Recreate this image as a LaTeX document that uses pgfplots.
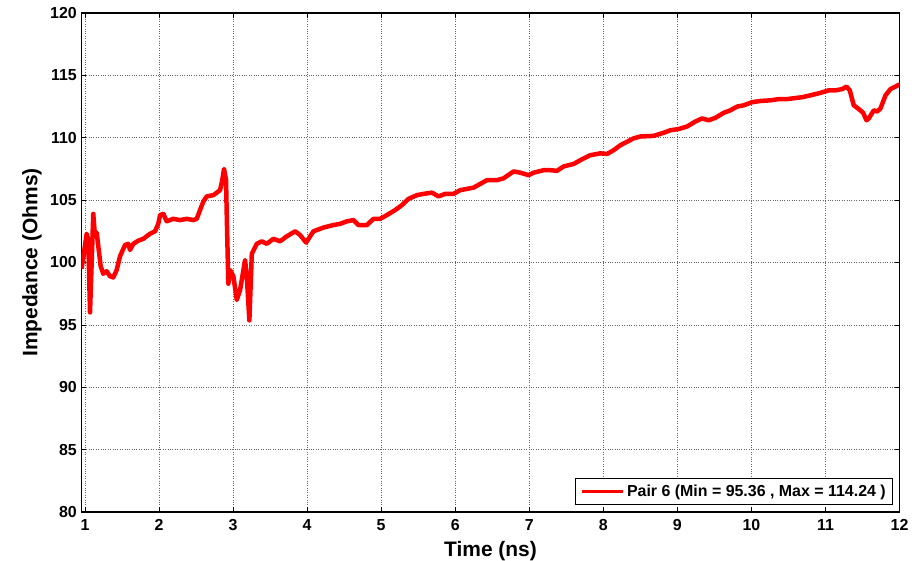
\documentclass[border=0pt]{standalone}
\usepackage{fontspec}
\setmainfont{Liberation Sans}
\usepackage{pgfplots}
\pgfplotsset{compat=1.18}
\begin{document}
\begin{tikzpicture}
\begin{axis}[
  scale only axis, width=818bp, height=499bp,
  xmin=0.953, xmax=12, ymin=80, ymax=120,
  xtick={1,2,...,12}, ytick={80,85,...,120},
  /pgf/number format/assume math mode=true,
  tick label style={font=\bfseries\fontsize{16}{18}\selectfont},
  xticklabel style={anchor=north, inner sep=0pt, yshift=-7bp},
  yticklabel style={anchor=east, inner sep=0pt, xshift=-4.5bp},
  tick align=inside, major tick length=5bp,
  tick style={black, line width=0.6bp},
  grid=major, major grid style={black!60, dotted, line width=0.7bp},
  axis line style={black, line width=1.2bp},
  xlabel={Time (ns)}, ylabel={Impedance (Ohms)},
  label style={font=\bfseries\fontsize{21}{24}\selectfont},
  xlabel style={at={(axis description cs:0.5,-0.0882)}, anchor=base},
  ylabel style={at={(axis description cs:-0.0605,0.5)}, anchor=center},
  title={TDR Test Setup (Pair 6)},
  title style={at={(rel axis cs:0.689,1)}, anchor=base east, yshift=13bp, font=\bfseries\fontsize{20}{24}\selectfont},
  legend style={at={(rel axis cs:0.9921,0.014)}, anchor=south east, draw=black, line width=0.6bp, inner xsep=4.5bp, inner ysep=4bp,
    nodes={inner sep=2.5bp, font=\bfseries\fontsize{16}{18}\selectfont}},
  legend image code/.code={\draw[#1, line width=3.5bp] (0bp,0bp) -- (41bp,0bp);},
]
\addplot[red, line width=4.5bp, line join=round] coordinates {
(0.955,99.5) (1.023,102.3) (1.045,101.8) (1.068,96.0) (1.112,103.9) (1.135,102.1)
(1.158,102.4) (1.18,101.3) (1.212,99.7) (1.247,99.1) (1.293,99.3) (1.338,98.9)
(1.382,98.8) (1.428,99.4) (1.473,100.5) (1.541,101.4) (1.585,101.5) (1.608,101.0)
(1.653,101.5) (1.72,101.75) (1.788,101.9) (1.878,102.3) (1.946,102.5) (1.99,103.1)
(2.014,103.8) (2.058,103.9) (2.104,103.3) (2.193,103.5) (2.284,103.4) (2.374,103.5)
(2.464,103.4) (2.509,103.5) (2.554,104.2) (2.599,104.9) (2.645,105.3) (2.734,105.4)
(2.78,105.6) (2.824,105.8) (2.851,106.5) (2.878,107.5) (2.905,106.6) (2.915,103.7)
(2.936,98.3) (2.959,99.4) (3.004,98.9) (3.05,97.0) (3.095,97.8) (3.162,100.2)
(3.185,98.9) (3.22,95.36) (3.253,100.7) (3.32,101.5) (3.388,101.7) (3.455,101.5)
(3.545,101.9) (3.635,101.7) (3.726,102.1) (3.838,102.5) (3.905,102.2) (3.986,101.6)
(4.085,102.5) (4.22,102.8) (4.355,103.0) (4.446,103.1) (4.536,103.3) (4.626,103.4)
(4.693,103.0) (4.807,103.0) (4.896,103.5) (4.986,103.5) (5.077,103.8) (5.189,104.2)
(5.28,104.6) (5.369,105.1) (5.482,105.4) (5.572,105.5) (5.685,105.6) (5.774,105.3)
(5.865,105.5) (5.977,105.5) (6.068,105.8) (6.158,105.9) (6.247,106.0) (6.338,106.3)
(6.428,106.6) (6.564,106.6) (6.653,106.75) (6.788,107.3) (6.878,107.2) (6.991,107.0)
(7.058,107.2) (7.193,107.4) (7.284,107.4) (7.374,107.35) (7.464,107.7) (7.599,107.9)
(7.689,108.2) (7.824,108.6) (7.959,108.75) (8.05,108.7) (8.139,109.0) (8.23,109.4)
(8.409,109.95) (8.5,110.1) (8.68,110.15) (8.815,110.4) (8.905,110.6) (9.018,110.7)
(9.131,110.9) (9.243,111.3) (9.334,111.55) (9.423,111.4) (9.514,111.6) (9.626,112.0)
(9.716,112.2) (9.807,112.5) (9.896,112.6) (10.009,112.85) (10.124,112.95) (10.259,113.0)
(10.369,113.1) (10.482,113.1) (10.618,113.2) (10.685,113.25) (10.797,113.4) (10.932,113.6)
(11.045,113.8) (11.135,113.8) (11.226,113.9) (11.284,114.1) (11.328,113.8) (11.382,112.6)
(11.45,112.3) (11.509,112.0) (11.554,111.4) (11.585,111.55) (11.653,112.2) (11.699,112.1)
(11.743,112.35) (11.811,113.4) (11.878,113.9) (11.99,114.24) (12.0,114.24)
};
\addlegendentry{Pair 6 (Min = 95.36 , Max = 114.24 )}
\end{axis}
\pgfresetboundingbox
\useasboundingbox (-81.5bp,-49bp) rectangle (840.5bp,512bp);
\end{tikzpicture}
\end{document}
